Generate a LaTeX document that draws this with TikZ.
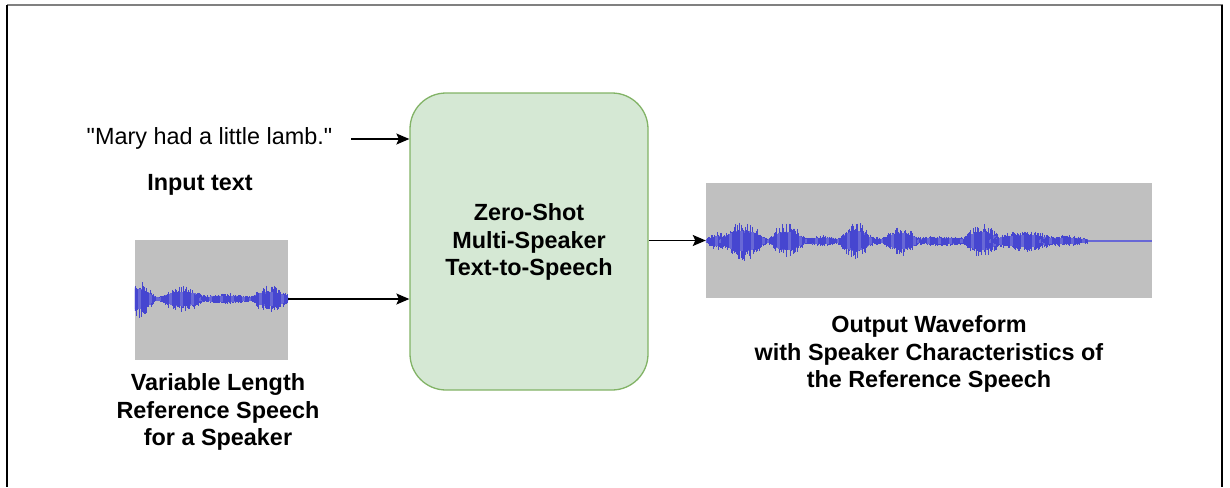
\documentclass[tikz,border=0pt]{standalone}
\usepackage{fontspec}
\setmainfont{Liberation Sans}
% same family without the TeX quote mapping, so " stays a straight quote
\newfontfamily\plainsans{Liberation Sans}
\usetikzlibrary{arrows.meta}

\definecolor{boxfill}{HTML}{D5E8D4}
\definecolor{boxline}{HTML}{82B366}
\definecolor{wavebg}{HTML}{C0C0C0}
\definecolor{wavefg}{RGB}{70,70,208}
\definecolor{wavecore}{RGB}{104,104,214}

\tikzset{
  txt/.style={font=\fontsize{23.4}{27.5}\selectfont, align=center, inner sep=0pt},
  bold/.style={txt, font=\fontsize{23.4}{27.5}\selectfont\bfseries},
  flow/.style={line width=1.4pt, -{Stealth[length=13pt,width=11pt,inset=2.5pt]}},
  wavebox/.style={rectangle, fill=wavebg, inner sep=0pt},
  wave/.style={wavefg, line width=0.7pt},
  core/.style={wavecore, line width=1.3pt},
  frame/.style={line width=1.5pt}
}

% one swelling burst of the waveform: centre y, start x, end x, peak amplitude
\newcommand{\waveburst}[4]{%
  \pgfmathsetmacro{\wbnext}{#2+1.1}%
  \pgfmathsetmacro{\wbk}{180/(#3-#2)}%
  \foreach \x in {#2,\wbnext,...,#3}{%
    \pgfmathsetmacro{\wba}{#4*sin(\wbk*(\x-#2))}%
    \pgfmathsetmacro{\wbc}{0.5*\wba+1.5}%
    \pgfmathsetmacro{\wbu}{\wba*(0.35+0.65*rnd)+1+1.5*rnd}%
    \pgfmathsetmacro{\wbd}{\wba*(0.35+0.65*rnd)+1+1.5*rnd}%
    \draw[core] (\x,#1-\wbc) -- (\x,#1+\wbc);
    \draw[wave] (\x,#1-\wbu) -- (\x,#1+\wbd);
  }%
}

\begin{document}
\begin{tikzpicture}[x=1pt, y=-1pt]
\useasboundingbox (0,0) rectangle (1230,487);
\pgfmathsetseed{4242}

% page frame
\draw[gray, line width=2pt] (7,5) -- (1223,5);
\draw[frame] (7,5) -- (7,487);
\draw[frame] (1222,5) -- (1222,487);

% central model block
\node[draw=boxline, fill=boxfill, line width=1.3pt, rounded corners=36pt,
      minimum width=238pt, minimum height=297pt, inner sep=0pt] (tts) at (529,241.5) {};
\node[bold] (ttslabel) at (529,242) {Zero-Shot\\Multi-Speaker\\Text-to-Speech};

% text input
\node[txt] (mary) at (209.5,138) {\plainsans "Mary had a little lamb."};
\node[bold] (inputlabel) at (200,185) {Input text};
\coordinate (marytail) at (351,139);
\draw[flow] (marytail) -- (tts.west |- marytail);

% reference speech input
\node[wavebox, minimum width=153pt, minimum height=120pt] (refwave) at (211.5,300) {};
\begin{scope}
  \clip (refwave.south west) rectangle (refwave.north east);
  \waveburst{299}{136}{288}{1.5}
  \waveburst{299}{118}{156}{18}
  \waveburst{299}{160}{206}{12}
  \waveburst{299}{200}{252}{3.5}
  \waveburst{299}{250}{290}{12}
\end{scope}
\node[bold] (reflabel) at (218,412) {Variable Length\\Reference Speech\\for a Speaker};
\draw[flow] (refwave.east |- 0,299) -- (tts.west |- 0,299);

% output waveform
\node[wavebox, minimum width=446pt, minimum height=115pt] (outwave) at (929,240.5) {};
\begin{scope}
  \clip (outwave.south west) rectangle (outwave.north east);
  \draw[wavecore, line width=1.2pt] (1080,241) -- (outwave.east |- 0,241);
  \waveburst{241}{707}{1085}{2}
  \waveburst{241}{706}{730}{7}
  \waveburst{241}{720}{767}{18}
  \waveburst{241}{768}{806}{16}
  \waveburst{241}{806}{840}{3.5}
  \waveburst{241}{838}{874}{17}
  \waveburst{241}{882}{920}{13}
  \waveburst{241}{918}{965}{3.5}
  \waveburst{241}{962}{1002}{15}
  \waveburst{241}{990}{1060}{9}
  \waveburst{241}{1040}{1088}{4}
\end{scope}
\draw[flow] (tts.east |- outwave.west) -- (outwave.west);
\node[bold] (outlabel) at (929,354) {Output Waveform\\with Speaker Characteristics of\\the Reference Speech};
\end{tikzpicture}
\end{document}
